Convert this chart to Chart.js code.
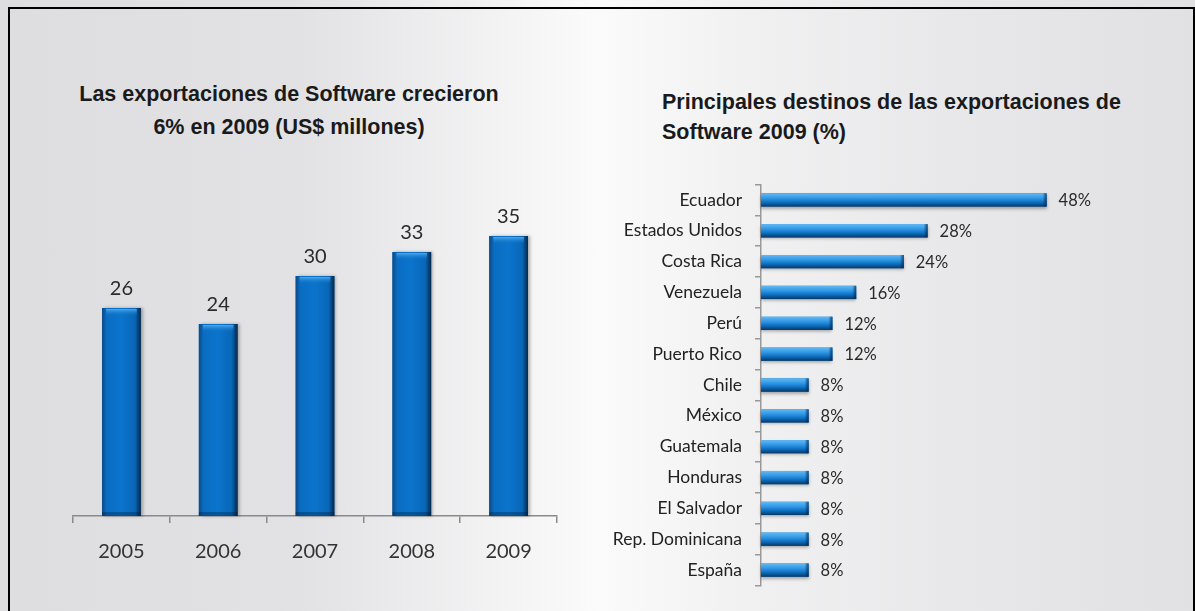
<!DOCTYPE html>
<html>
<head>
<meta charset="utf-8">
<script src="https://cdn.jsdelivr.net/npm/chart.js@4.4.1/dist/chart.umd.min.js"></script>
<style>
  body {
    margin: 0;
    width: 1195px;
    height: 611px;
    overflow: hidden;
    position: relative;
    background: linear-gradient(to right, #dedee0 0%, #e2e2e4 25%, #f4f4f5 43%, #fbfbfb 50%, #f1f1f2 62%, #e8e8ea 80%, #e1e1e3 100%);
  }
  #frame {
    position: absolute;
    left: 8px;
    top: 7px;
    width: 1187px;
    height: 640px;
    box-sizing: border-box;
    border: 2px solid #000;
    border-bottom: none;
  }
  .title {
    position: absolute;
    font-family: "Liberation Sans", Arial, sans-serif;
    font-weight: bold;
    font-size: 21.5px;
    color: #1a1a1a;
  }
  #t1 { left: 39px; top: 78px; width: 500px; text-align: center; line-height: 33px; }
  #t2 { left: 662px; top: 87px; width: 530px; line-height: 30px; }
  canvas { position: absolute; }
  #left { left: 60px; top: 180px; }
  #right { left: 600px; top: 161px; }
</style>
</head>
<body>
<div id="frame"></div>
<div class="title" id="t1">Las exportaciones de Software crecieron<br>6% en 2009 (US$ millones)</div>
<div class="title" id="t2">Principales destinos de las exportaciones de<br>Software 2009 (%)</div>
<canvas id="left" width="520" height="400"></canvas>
<canvas id="right" width="590" height="448"></canvas>
<script>
const years = ['2005', '2006', '2007', '2008', '2009'];
const exportsUSD = [26, 24, 30, 33, 35];

const countries = ['Ecuador', 'Estados Unidos', 'Costa Rica', 'Venezuela', 'Perú', 'Puerto Rico',
  'Chile', 'México', 'Guatemala', 'Honduras', 'El Salvador', 'Rep. Dominicana', 'España'];
const shares = [48, 28, 24, 16, 12, 12, 8, 8, 8, 8, 8, 8, 8];

// glossy look on top of the bars, using the bar elements' own geometry
const gloss = {
  id: 'gloss',
  afterDatasetsDraw(chart) {
    const ctx = chart.ctx;
    const horiz = chart.options.indexAxis === 'y';
    chart.getDatasetMeta(0).data.forEach(bar => {
      const p = bar.getProps(['x', 'y', 'base', 'width', 'height'], true);
      ctx.save();
      if (!horiz) {
        const l = p.x - p.width / 2, r = p.x + p.width / 2, t = p.y, b = p.base;
        const g = ctx.createLinearGradient(l, 0, r, 0);
        g.addColorStop(0, '#0a4a85');
        g.addColorStop(0.12, '#0a6dc2');
        g.addColorStop(0.5, '#0b74cc');
        g.addColorStop(0.85, '#0966b6');
        g.addColorStop(1, '#05284a');
        ctx.shadowColor = 'rgba(0,0,0,0.3)';
        ctx.shadowBlur = 3;
        ctx.shadowOffsetX = 2;
        ctx.fillStyle = g;
        ctx.fillRect(l, t, r - l, b - t);
        ctx.shadowColor = 'transparent';
        const c = ctx.createLinearGradient(0, t, 0, t + 8);
        c.addColorStop(0, '#65b8f3');
        c.addColorStop(1, 'rgba(11,116,204,0)');
        ctx.fillStyle = c;
        ctx.fillRect(l + 4, t + 1, r - l - 8, 7);
        ctx.fillStyle = 'rgba(0,30,60,0.35)';
        ctx.fillRect(l, b - 4, r - l, 4);
      } else {
        const l = p.base, r = p.x, t = p.y - p.height / 2, b = p.y + p.height / 2;
        const g = ctx.createLinearGradient(0, t, 0, b);
        g.addColorStop(0, '#62b9f3');
        g.addColorStop(0.35, '#3399e5');
        g.addColorStop(0.65, '#0f72c6');
        g.addColorStop(1, '#073866');
        ctx.shadowColor = 'rgba(0,0,0,0.3)';
        ctx.shadowBlur = 3;
        ctx.shadowOffsetY = 2;
        ctx.fillStyle = g;
        ctx.fillRect(l, t, r - l, b - t);
        ctx.shadowColor = 'transparent';
        const e = ctx.createLinearGradient(r - 4, 0, r, 0);
        e.addColorStop(0, 'rgba(5,40,80,0)');
        e.addColorStop(1, 'rgba(5,40,80,0.8)');
        ctx.fillStyle = e;
        ctx.fillRect(r - 4, t, 4, b - t);
      }
      ctx.restore();
    });
  }
};

const valueLabels = {
  id: 'valueLabels',
  afterDatasetsDraw(chart, args, opts) {
    const ctx = chart.ctx;
    const horiz = chart.options.indexAxis === 'y';
    const vals = chart.data.datasets[0].data;
    ctx.save();
    ctx.font = opts.font;
    ctx.fillStyle = '#2a2a2a';
    ctx.textBaseline = 'middle';
    chart.getDatasetMeta(0).data.forEach((bar, i) => {
      if (horiz) {
        ctx.textAlign = 'left';
        ctx.fillText(vals[i] + '%', bar.x + 12, bar.y + 1);
      } else {
        ctx.textAlign = 'center';
        ctx.fillText(vals[i], bar.x, bar.y - 19);
      }
    });
    ctx.restore();
  }
};

new Chart(document.getElementById('left'), {
  type: 'bar',
  data: {
    labels: years,
    datasets: [{
      data: exportsUSD,
      backgroundColor: '#0b70c6',
      borderWidth: 0,
      barPercentage: 0.4,
      categoryPercentage: 1
    }]
  },
  options: {
    responsive: false,
    animation: false,
    layout: { padding: { left: 13, right: 23, top: 16, bottom: 0 } },
    plugins: {
      legend: { display: false },
      tooltip: { enabled: false },
      valueLabels: { font: '20px Lato' }
    },
    scales: {
      x: {
        grid: { drawOnChartArea: false, tickLength: 7, color: '#8a8a8a', lineWidth: 1.5 },
        border: { display: true, color: '#8a8a8a', width: 1.5 },
        ticks: { font: { family: 'Lato', size: 20 }, color: '#333', padding: 17 },
        afterFit: s => { s.height = 64; }
      },
      y: { display: false, min: 0, max: 40 }
    }
  },
  plugins: [gloss, valueLabels]
});

new Chart(document.getElementById('right'), {
  type: 'bar',
  data: {
    labels: countries,
    datasets: [{
      data: shares,
      backgroundColor: '#1a80d4',
      borderWidth: 0,
      barPercentage: 0.43,
      categoryPercentage: 1
    }]
  },
  options: {
    indexAxis: 'y',
    responsive: false,
    animation: false,
    layout: { padding: { left: 0, right: 72, top: 0, bottom: 0 } },
    plugins: {
      legend: { display: false },
      tooltip: { enabled: false },
      valueLabels: { font: '16.5px Lato' }
    },
    scales: {
      x: { display: false, min: 0, max: 60 },
      y: {
        grid: { drawOnChartArea: false, tickLength: 6, color: '#999', lineWidth: 1.5 },
        border: { display: true, color: '#999', width: 1.5 },
        ticks: { font: { family: 'Lato', size: 17.5 }, color: '#222', padding: 13 },
        afterFit: s => { s.width = 161; }
      }
    }
  },
  plugins: [gloss, valueLabels]
});
</script>
</body>
</html>
